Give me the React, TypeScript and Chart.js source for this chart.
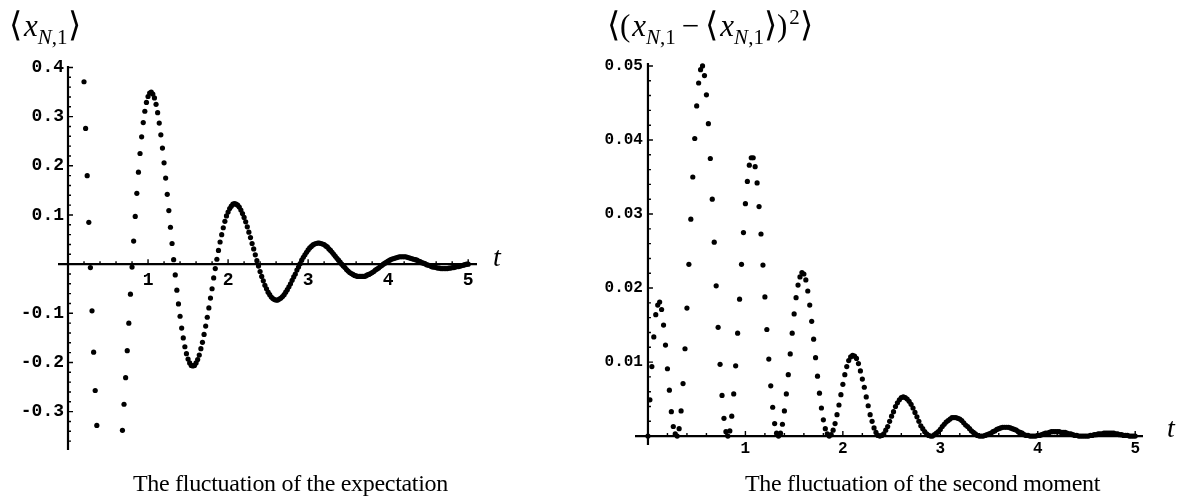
import React, { useEffect, useRef } from "react";
import { Chart, registerables } from "chart.js";

Chart.register(...registerables);

// sampling interval of the time grid t = 0, 0.02, ..., 5
const T_STEP = 0.02;

// <x_{N,1}>, one value per grid time
const EXPECTATION: number[] = [
  0.995, 0.980, 0.951, 0.910, 0.857, 0.794, 0.722, 0.642, 0.556, 0.465,
  0.371, 0.276, 0.180, 0.085, -0.007, -0.095, -0.179, -0.257, -0.328, -0.392,
  -0.447, -0.493, -0.532, -0.560, -0.579, -0.589, -0.590, -0.583, -0.567, -0.544,
  -0.514, -0.477, -0.435, -0.388, -0.338, -0.285, -0.231, -0.176, -0.120, -0.061,
  -0.006, 0.047, 0.097, 0.144, 0.187, 0.225, 0.259, 0.288, 0.311, 0.329,
  0.341, 0.348, 0.350, 0.346, 0.338, 0.325, 0.308, 0.287, 0.263, 0.236,
  0.206, 0.175, 0.142, 0.109, 0.075, 0.042, 0.009, -0.022, -0.053, -0.081,
  -0.106, -0.130, -0.150, -0.168, -0.182, -0.193, -0.201, -0.206, -0.207, -0.206,
  -0.201, -0.194, -0.185, -0.172, -0.159, -0.143, -0.126, -0.108, -0.089, -0.069,
  -0.050, -0.028, -0.009, 0.010, 0.028, 0.045, 0.060, 0.074, 0.087, 0.098,
  0.106, 0.113, 0.118, 0.122, 0.123, 0.122, 0.120, 0.116, 0.110, 0.103,
  0.095, 0.086, 0.076, 0.065, 0.054, 0.042, 0.031, 0.019, 0.007, -0.004,
  -0.015, -0.025, -0.034, -0.043, -0.050, -0.057, -0.062, -0.067, -0.070, -0.072,
  -0.073, -0.073, -0.071, -0.069, -0.066, -0.062, -0.057, -0.052, -0.046, -0.040,
  -0.033, -0.026, -0.020, -0.012, -0.006, 0.001, 0.008, 0.014, 0.019, 0.024,
  0.029, 0.033, 0.036, 0.039, 0.041, 0.042, 0.043, 0.043, 0.042, 0.041,
  0.040, 0.037, 0.035, 0.031, 0.028, 0.024, 0.020, 0.016, 0.012, 0.008,
  0.004, 0.000, -0.004, -0.007, -0.011, -0.014, -0.017, -0.019, -0.021, -0.023,
  -0.024, -0.025, -0.025, -0.025, -0.025, -0.025, -0.024, -0.022, -0.021, -0.019,
  -0.017, -0.015, -0.012, -0.010, -0.008, -0.005, -0.003, 0.000, 0.002, 0.004,
  0.006, 0.008, 0.010, 0.011, 0.012, 0.013, 0.014, 0.015, 0.015, 0.015,
  0.015, 0.015, 0.014, 0.013, 0.012, 0.011, 0.010, 0.009, 0.008, 0.006,
  0.005, 0.003, 0.002, 0.001, -0.001, -0.002, -0.003, -0.005, -0.006, -0.006,
  -0.007, -0.008, -0.008, -0.009, -0.009, -0.009, -0.009, -0.009, -0.008, -0.008,
  -0.007, -0.007, -0.006, -0.005, -0.005, -0.004, -0.003, -0.002, -0.001, 0.000,
  0.000,
];

// <(x_{N,1} - <x_{N,1}>)^2>, same time grid
const SECOND_MOMENT: number[] = [
  0.0000, 0.0049, 0.0094, 0.0134, 0.0164, 0.0177, 0.0181, 0.0171, 0.0150, 0.0123,
  0.0091, 0.0062, 0.0033, 0.0013, 0.0003, 0.0000, 0.0010, 0.0034, 0.0071, 0.0118,
  0.0173, 0.0232, 0.0293, 0.0350, 0.0402, 0.0446, 0.0477, 0.0495, 0.0500, 0.0487,
  0.0461, 0.0422, 0.0375, 0.0320, 0.0262, 0.0203, 0.0147, 0.0097, 0.0055, 0.0024,
  0.0006, 0.0000, 0.0007, 0.0027, 0.0057, 0.0095, 0.0139, 0.0185, 0.0232, 0.0275,
  0.0314, 0.0344, 0.0366, 0.0376, 0.0376, 0.0364, 0.0342, 0.0310, 0.0273, 0.0231,
  0.0188, 0.0144, 0.0104, 0.0068, 0.0039, 0.0017, 0.0004, 0.0000, 0.0004, 0.0016,
  0.0034, 0.0057, 0.0083, 0.0111, 0.0139, 0.0165, 0.0187, 0.0204, 0.0215, 0.0221,
  0.0219, 0.0211, 0.0196, 0.0177, 0.0155, 0.0131, 0.0106, 0.0081, 0.0058, 0.0038,
  0.0022, 0.0010, 0.0003, 0.0000, 0.0002, 0.0008, 0.0017, 0.0029, 0.0042, 0.0056,
  0.0070, 0.0083, 0.0094, 0.0102, 0.0107, 0.0109, 0.0108, 0.0105, 0.0098, 0.0088,
  0.0077, 0.0066, 0.0053, 0.0041, 0.0029, 0.0020, 0.0011, 0.0005, 0.0001, 0.0000,
  0.0001, 0.0003, 0.0008, 0.0013, 0.0020, 0.0027, 0.0033, 0.0040, 0.0045, 0.0049,
  0.0052, 0.0053, 0.0052, 0.0050, 0.0047, 0.0043, 0.0038, 0.0032, 0.0026, 0.0020,
  0.0014, 0.0010, 0.0006, 0.0003, 0.0001, 0.0000, 0.0000, 0.0002, 0.0004, 0.0006,
  0.0009, 0.0013, 0.0016, 0.0019, 0.0021, 0.0023, 0.0025, 0.0025, 0.0025, 0.0024,
  0.0023, 0.0021, 0.0018, 0.0015, 0.0013, 0.0010, 0.0007, 0.0005, 0.0003, 0.0001,
  0.0000, 0.0000, 0.0000, 0.0001, 0.0002, 0.0003, 0.0004, 0.0006, 0.0007, 0.0009,
  0.0010, 0.0011, 0.0012, 0.0012, 0.0012, 0.0012, 0.0011, 0.0010, 0.0009, 0.0008,
  0.0006, 0.0005, 0.0004, 0.0002, 0.0001, 0.0001, 0.0000, 0.0000, 0.0000, 0.0000,
  0.0001, 0.0001, 0.0002, 0.0003, 0.0004, 0.0004, 0.0005, 0.0006, 0.0006, 0.0006,
  0.0006, 0.0006, 0.0005, 0.0005, 0.0005, 0.0004, 0.0003, 0.0003, 0.0002, 0.0001,
  0.0001, 0.0000, 0.0000, 0.0000, 0.0000, 0.0000, 0.0000, 0.0001, 0.0001, 0.0002,
  0.0002, 0.0003, 0.0003, 0.0003, 0.0004, 0.0004, 0.0004, 0.0004, 0.0004, 0.0004,
  0.0003, 0.0003, 0.0002, 0.0002, 0.0001, 0.0001, 0.0001, 0.0000, 0.0000, 0.0000,
  0.0000,
];

const X_TICKS = [1, 2, 3, 4, 5];
const X_TICK_LABELS = ["1", "2", "3", "4", "5"];
const EXP_Y_TICKS = [0.4, 0.3, 0.2, 0.1, -0.1, -0.2, -0.3];
const EXP_Y_LABELS = ["0.4", "0.3", "0.2", "0.1", "-0.1", "-0.2", "-0.3"];
const MOM_Y_TICKS = [0.05, 0.04, 0.03, 0.02, 0.01];
const MOM_Y_LABELS = ["0.05", "0.04", "0.03", "0.02", "0.01"];

const toPoints = (vals: number[]) =>
  vals.map((v, i) => ({ x: Math.round(i * T_STEP * 1000) / 1000, y: v }));

const MONO = '"Liberation Mono", "DejaVu Sans Mono", monospace';
const SERIF = '"Liberation Serif", "DejaVu Serif", serif';

// axes that cross at the origin, with inward ticks, drawn through the chart's scales
const mathAxes = {
  id: "mathAxes",
  beforeDatasetsDraw(chart: any, _args: any, o: any) {
    const { ctx, chartArea: a } = chart;
    const xs = chart.scales.x;
    const ys = chart.scales.y;
    const x0 = xs.getPixelForValue(0);
    const y0 = ys.getPixelForValue(0);
    ctx.save();
    ctx.strokeStyle = "#000";
    ctx.lineWidth = 2.2;
    ctx.beginPath();
    ctx.moveTo(a.left, y0);
    ctx.lineTo(a.right, y0);
    ctx.moveTo(x0, a.top);
    ctx.lineTo(x0, a.bottom);
    ctx.stroke();

    ctx.lineWidth = 1.4;
    ctx.beginPath();
    const nx = Math.floor(xs.max / o.xMinorStep + 1e-6);
    for (let i = 1; i <= nx; i++) {
      const major = i % o.xMajorEvery === 0;
      const px = xs.getPixelForValue(i * o.xMinorStep);
      ctx.moveTo(px, y0);
      ctx.lineTo(px, y0 - (major ? o.majorLen : o.minorLen));
    }
    const lo = Math.ceil(ys.min / o.yMinorStep - 1e-6);
    const hi = Math.floor(ys.max / o.yMinorStep + 1e-6);
    for (let i = lo; i <= hi; i++) {
      if (i === 0) continue;
      const major = i % o.yMajorEvery === 0;
      const py = ys.getPixelForValue(i * o.yMinorStep);
      ctx.moveTo(x0, py);
      ctx.lineTo(x0 + (major ? o.majorLen : o.minorLen), py);
    }
    ctx.stroke();

    ctx.fillStyle = "#000";
    ctx.font = o.tickFont;
    ctx.textAlign = "center";
    ctx.textBaseline = "middle";
    X_TICKS.forEach((v, i) =>
      ctx.fillText(X_TICK_LABELS[i], xs.getPixelForValue(v), y0 + o.xLabelDy)
    );
    ctx.textAlign = "right";
    o.yTicks.forEach((v: number, i: number) =>
      ctx.fillText(o.yLabels[i], x0 - o.yLabelGap, ys.getPixelForValue(v))
    );
    ctx.font = o.varFont;
    ctx.textAlign = "left";
    ctx.textBaseline = "alphabetic";
    ctx.fillText("t", a.right + o.tDx, y0 + o.tDy);
    ctx.restore();
  },
};

type PlotProps = {
  left: number;
  values: number[];
  xMin: number;
  xMax: number;
  yMin: number;
  yMax: number;
  padding: { left: number; right: number; top: number; bottom: number };
  axes: any;
};

function Plot({ left, values, xMin, xMax, yMin, yMax, padding, axes }: PlotProps) {
  const ref = useRef<HTMLCanvasElement>(null);
  useEffect(() => {
    const chart = new Chart(ref.current as HTMLCanvasElement, {
      type: "scatter",
      data: {
        datasets: [
          {
            data: toPoints(values),
            pointRadius: 2.6,
            pointHoverRadius: 2.6,
            pointBackgroundColor: "#000",
            pointBorderWidth: 0,
            showLine: false,
          },
        ],
      },
      options: {
        responsive: false,
        animation: false,
        devicePixelRatio: 1,
        events: [],
        layout: { padding },
        scales: {
          x: { type: "linear", min: xMin, max: xMax, display: false },
          y: { type: "linear", min: yMin, max: yMax, display: false },
        },
        plugins: {
          legend: { display: false },
          tooltip: { enabled: false },
          mathAxes: axes,
        } as any,
      },
      plugins: [mathAxes as any],
    });
    return () => chart.destroy();
  }, []);
  return (
    <canvas
      ref={ref}
      width={590}
      height={504}
      style={{ position: "absolute", left, top: 0, width: 590, height: 504 }}
    />
  );
}

const br: React.CSSProperties = {
  fontFamily: '"DejaVu Sans", sans-serif',
  fontWeight: 200,
  fontSize: 34,
};
const sub: React.CSSProperties = { position: "relative", top: 8, fontSize: 21 };
const sup: React.CSSProperties = { position: "relative", top: -12, fontSize: 21, marginLeft: 2 };
const xN1 = (
  <>
    <i style={{ marginLeft: 2 }}>x</i>
    <span style={sub}>
      <i>N</i>,1
    </span>
  </>
);

const titleStyle: React.CSSProperties = {
  position: "absolute",
  top: 8,
  font: `31px ${SERIF}`,
  lineHeight: "32px",
  whiteSpace: "nowrap",
};

const captionStyle: React.CSSProperties = {
  position: "absolute",
  top: 471,
  font: `24px ${SERIF}`,
  lineHeight: "24px",
  letterSpacing: "-0.3px",
  whiteSpace: "nowrap",
};

export default function App() {
  return (
    <div
      style={{
        position: "absolute",
        left: 0,
        top: 0,
        width: 1180,
        height: 504,
        background: "#fff",
        overflow: "hidden",
        color: "#000",
      }}
    >
      <Plot
        left={0}
        values={EXPECTATION}
        xMin={-0.125}
        xMax={5.11}
        yMin={-0.378}
        yMax={0.403}
        padding={{ left: 58, right: 113, top: 66, bottom: 54 }}
        axes={{
          xMinorStep: 0.2,
          xMajorEvery: 5,
          yMinorStep: 0.02,
          yMajorEvery: 5,
          majorLen: 5,
          minorLen: 3,
          tickFont: `bold 18px ${MONO}`,
          xLabelDy: 16,
          yTicks: EXP_Y_TICKS,
          yLabels: EXP_Y_LABELS,
          yLabelGap: 4,
          varFont: `italic 28px ${SERIF}`,
          tDx: 16,
          tDy: 2,
        }}
      />
      <Plot
        left={590}
        values={SECOND_MOMENT}
        xMin={-0.133}
        xMax={5.08}
        yMin={-0.0012}
        yMax={0.0504}
        padding={{ left: 45, right: 37, top: 63, bottom: 59 }}
        axes={{
          xMinorStep: 0.2,
          xMajorEvery: 5,
          yMinorStep: 0.002,
          yMajorEvery: 5,
          majorLen: 5,
          minorLen: 3,
          tickFont: `bold 16px ${MONO}`,
          xLabelDy: 13,
          yTicks: MOM_Y_TICKS,
          yLabels: MOM_Y_LABELS,
          yLabelGap: 5,
          varFont: `italic 28px ${SERIF}`,
          tDx: 24,
          tDy: 1,
        }}
      />
      <div style={{ ...titleStyle, left: 9 }}>
        <span style={br}>⟨</span>
        {xN1}
        <span style={br}>⟩</span>
      </div>
      <div style={{ ...titleStyle, left: 607 }}>
        <span style={br}>⟨</span>(
        {xN1}
        <span style={{ margin: "0 6px" }}>−</span>
        <span style={br}>⟨</span>
        {xN1}
        <span style={br}>⟩</span>)<span style={sup}>2</span>
        <span style={br}>⟩</span>
      </div>
      <div style={{ ...captionStyle, left: 133 }}>The fluctuation of the expectation</div>
      <div style={{ ...captionStyle, left: 745 }}>The fluctuation of the second moment</div>
    </div>
  );
}
